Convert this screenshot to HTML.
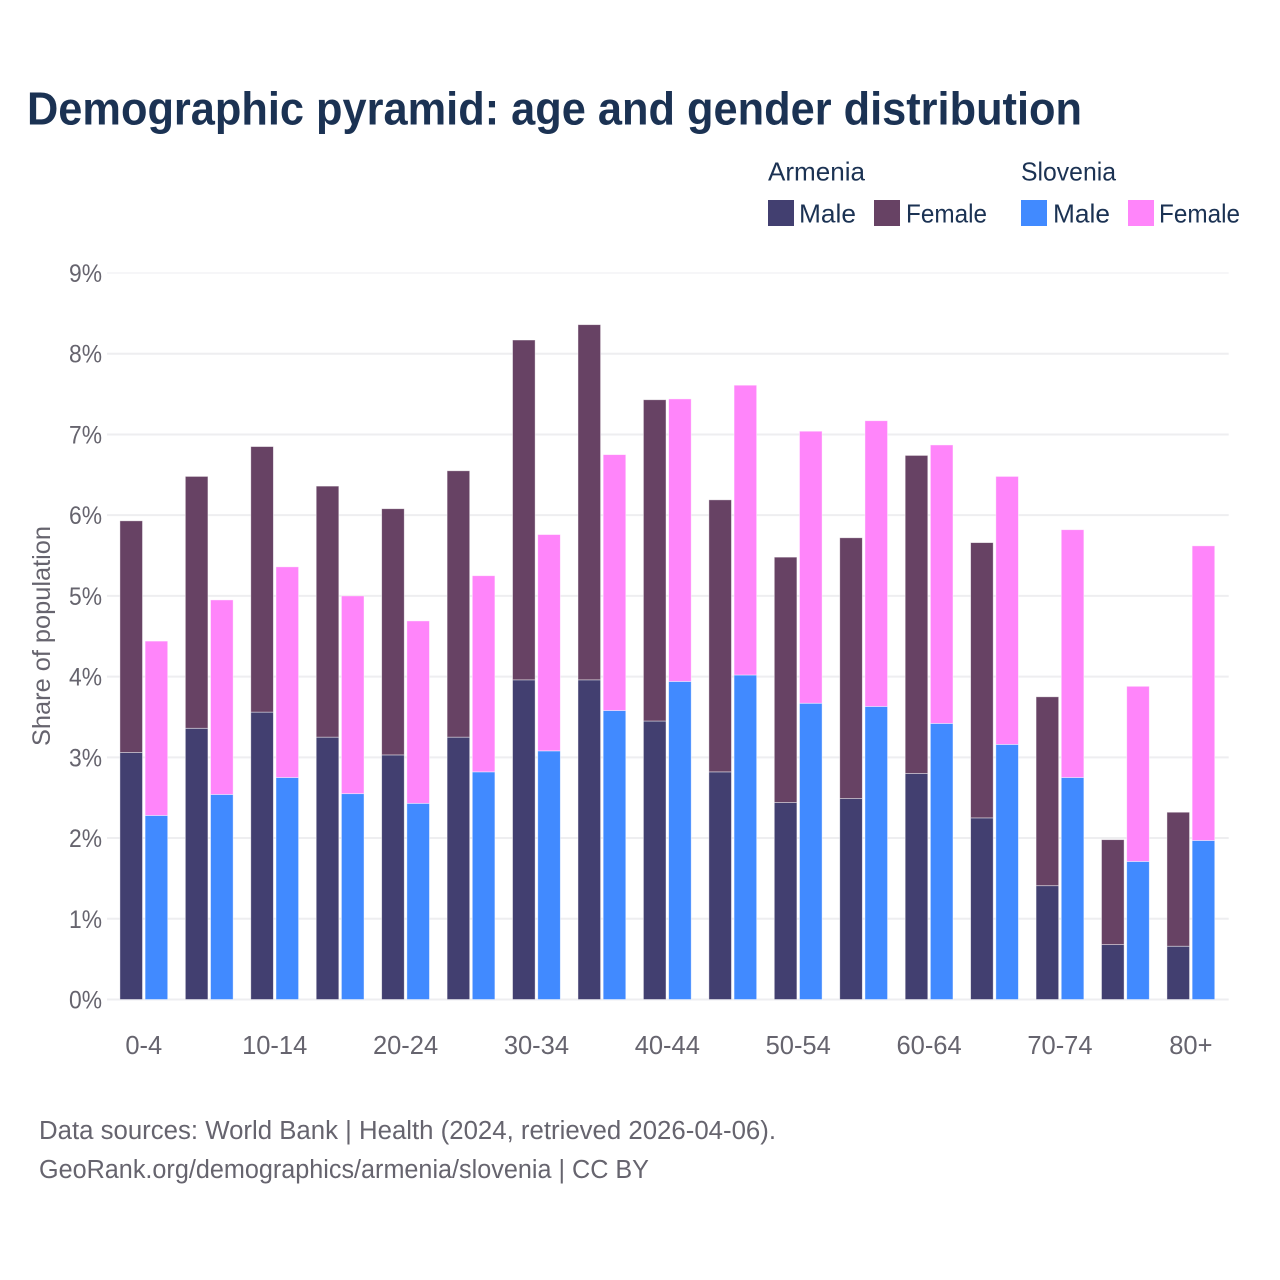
<!DOCTYPE html>
<html lang="en">
<head>
<meta charset="utf-8">
<title>Demographic pyramid</title>
<style>
  html, body { margin: 0; padding: 0; background: #fff; }
  svg { display: block; font-family: "Liberation Sans", Arial, sans-serif; }
</style>
</head>
<body>
<svg id="chart" width="1280" height="1280" viewBox="0 0 1280 1280" xmlns="http://www.w3.org/2000/svg">
  <rect width="1280" height="1280" fill="#ffffff"/>
  <text x="27" y="124.5" font-size="46" font-weight="700" fill="#1b3253" textLength="1055" lengthAdjust="spacingAndGlyphs">Demographic pyramid: age and gender distribution</text>

  <g font-size="26" fill="#1b3253">
    <text x="768" y="180.5" textLength="97" lengthAdjust="spacingAndGlyphs">Armenia</text>
    <text x="1021" y="180.5" textLength="95" lengthAdjust="spacingAndGlyphs">Slovenia</text>
    <rect x="768" y="200" width="26" height="26" fill="#423f70"/>
    <text x="799" y="222.5" textLength="57" lengthAdjust="spacingAndGlyphs">Male</text>
    <rect x="874" y="200" width="26" height="26" fill="#674264"/>
    <text x="906" y="222.5" textLength="81" lengthAdjust="spacingAndGlyphs">Female</text>
    <rect x="1021" y="200" width="26" height="26" fill="#418aff"/>
    <text x="1053" y="222.5" textLength="57" lengthAdjust="spacingAndGlyphs">Male</text>
    <rect x="1128" y="200" width="26" height="26" fill="#ff85fa"/>
    <text x="1159" y="222.5" textLength="81" lengthAdjust="spacingAndGlyphs">Female</text>
  </g>

  <g id="grid"></g>
  <g id="bars"></g>
  <g id="y-ticks" font-size="25" fill="#66646e"></g>
  <g id="x-ticks" font-size="25.5" fill="#66646e"></g>

  <text transform="translate(50,636) rotate(-90)" text-anchor="middle" font-size="25" fill="#66646e" textLength="220" lengthAdjust="spacingAndGlyphs">Share of population</text>

  <text x="39" y="1139" font-size="25.5" fill="#66646e" textLength="737" lengthAdjust="spacingAndGlyphs">Data sources: World Bank | Health (2024, retrieved 2026-04-06).</text>
  <text x="39" y="1178" font-size="25.5" fill="#66646e" textLength="610" lengthAdjust="spacingAndGlyphs">GeoRank.org/demographics/armenia/slovenia | CC BY</text>
</svg>

<script>
const ageGroups = ["0-4","5-9","10-14","15-19","20-24","25-29","30-34","35-39","40-44","45-49","50-54","55-59","60-64","65-69","70-74","75-79","80+"];
const xTickLabels = ["0-4","10-14","20-24","30-34","40-44","50-54","60-64","70-74","80+"];
const yTicks = [0,1,2,3,4,5,6,7,8,9];
const armeniaMale   = [3.06,3.36,3.56,3.25,3.03,3.25,3.96,3.96,3.45,2.82,2.44,2.49,2.80,2.25,1.41,0.68,0.66];
const armeniaFemale = [2.87,3.12,3.29,3.11,3.05,3.30,4.21,4.40,3.98,3.37,3.04,3.23,3.94,3.41,2.34,1.30,1.66];
const sloveniaMale   = [2.28,2.54,2.75,2.55,2.43,2.82,3.08,3.58,3.94,4.02,3.67,3.63,3.42,3.16,2.75,1.71,1.97];
const sloveniaFemale = [2.16,2.41,2.61,2.45,2.26,2.43,2.68,3.17,3.50,3.59,3.37,3.54,3.45,3.32,3.07,2.17,3.65];

const NS = "http://www.w3.org/2000/svg";
const plot = { left: 107, right: 1228.7, y0: 999.5, y9: 273, firstCenter: 143.8, step: 65.44, barW: 22.6, gap: 2.6 };

function yScale(v) {
  return plot.y0 - (v / 9) * (plot.y0 - plot.y9);
}
function xCenter(i) {
  return plot.firstCenter + i * plot.step;
}
function make(tag, attrs, parent) {
  const el = document.createElementNS(NS, tag);
  for (const k in attrs) el.setAttribute(k, attrs[k]);
  parent.appendChild(el);
  return el;
}

const gridG = document.getElementById("grid");
const yG = document.getElementById("y-ticks");
const xG = document.getElementById("x-ticks");
const barsG = document.getElementById("bars");

yTicks.forEach(function (t) {
  const top = t === yTicks[yTicks.length - 1];
  const line = make("line", { x1: plot.left, x2: plot.right, y1: yScale(t), y2: yScale(t), stroke: "#eeeef0", "stroke-width": top ? 1 : 2 }, gridG);
  
  
  const label = make("text", { x: 102, y: yScale(t) + 9, "text-anchor": "end", textLength: 33, lengthAdjust: "spacingAndGlyphs" }, yG);
  
  
  label.textContent = t + "%";
});

xTickLabels.forEach(function (name) {
  const label = make("text", { x: xCenter(ageGroups.indexOf(name)), y: 1054, "text-anchor": "middle" }, xG);
  
  
  label.textContent = name;
});

function drawBar(x, base, value, fill, name) {
  const top = yScale(base + value);
  const bar = make("rect", {
    x: x, y: top, width: plot.barW, height: yScale(base) - top,
    fill: fill, stroke: "#ffffff", "stroke-opacity": 0.55, "stroke-width": 0.8
  }, barsG);
  
  
}

ageGroups.forEach(function (g, i) {
  const c = xCenter(i);
  const xA = c - plot.gap / 2 - plot.barW;
  const xS = c + plot.gap / 2;
  drawBar(xA, 0, armeniaMale[i], "#423f70", "bar-armenia-male");
  drawBar(xA, armeniaMale[i], armeniaFemale[i], "#674264", "bar-armenia-female");
  drawBar(xS, 0, sloveniaMale[i], "#418aff", "bar-slovenia-male");
  drawBar(xS, sloveniaMale[i], sloveniaFemale[i], "#ff85fa", "bar-slovenia-female");
});
</script>
</body>
</html>
